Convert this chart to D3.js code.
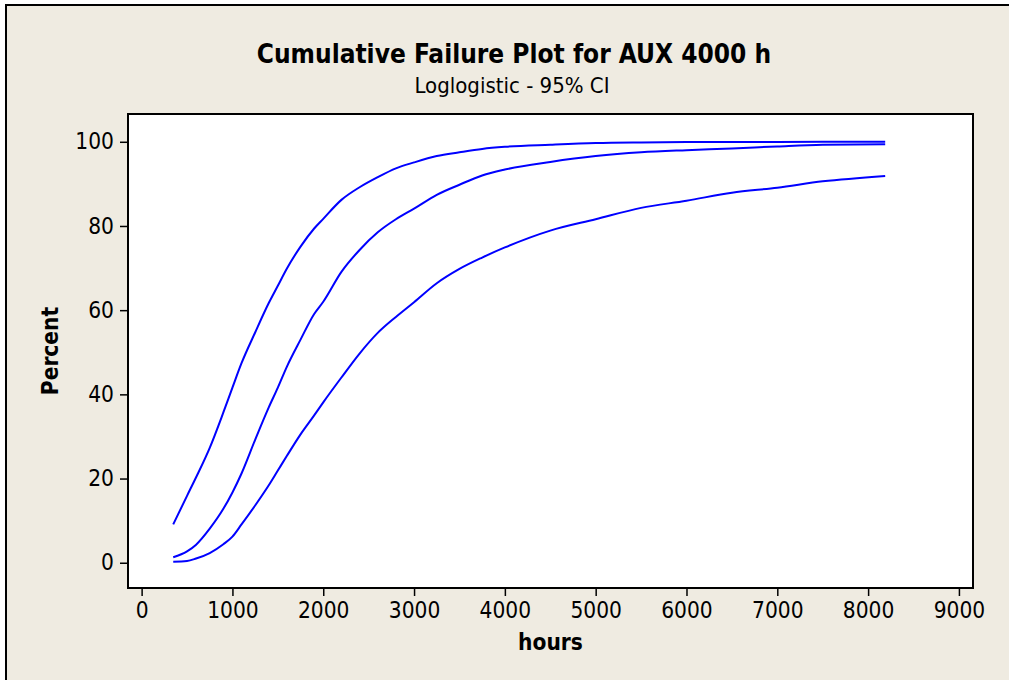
<!DOCTYPE html>
<html>
<head>
<meta charset="utf-8">
<script src="https://cdn.jsdelivr.net/npm/d3@7/dist/d3.min.js"></script>
<style>
  html, body { margin: 0; padding: 0; background: #efebe1; overflow: hidden; }
  svg { display: block; }
  text { font-family: "DejaVu Sans Condensed", "DejaVu Sans", sans-serif; fill: #000; }
</style>
</head>
<body>
<svg id="chart" width="1009" height="680"></svg>
<script>
// ---- data ----
const hours = [348, 500, 600, 750, 900, 1000, 1100, 1250, 1400, 1500, 1600, 1750, 1900, 2000,
  2200, 2400, 2600, 2800, 3000, 3250, 3500, 3750, 4000, 4500, 5000, 5500, 6000, 6500, 7000, 7500, 8188];
const upperCI = [9.1, 15.9, 20.3, 27.3, 35.7, 41.6, 47.4, 54.7, 61.7, 65.8, 69.9, 75.1, 79.4, 81.7,
  86.2, 89.2, 91.6, 93.7, 95.1, 96.6, 97.5, 98.3, 98.8, 99.3, 99.7, 99.85, 99.92, 99.95, 99.97, 99.98, 99.99];
const percentFit = [1.3, 2.7, 4.3, 8.1, 12.8, 16.7, 21.2, 29.2, 36.9, 41.6, 46.6, 53.0, 59.1, 62.0,
  69.1, 74.3, 78.5, 81.6, 84.1, 87.4, 89.8, 92.0, 93.4, 95.2, 96.6, 97.5, 98.0, 98.4, 98.9, 99.3, 99.4];
const lowerCI = [0.24, 0.4, 1.0, 2.3, 4.4, 6.2, 9.1, 13.6, 18.4, 21.9, 25.4, 30.5, 35.0, 38.1,
  44.0, 49.7, 54.6, 58.4, 61.9, 66.4, 69.8, 72.5, 74.9, 78.9, 81.6, 84.3, 86.0, 87.9, 89.1, 90.6, 91.9];
const xTicks = [0, 1000, 2000, 3000, 4000, 5000, 6000, 7000, 8000, 9000];
const yTicks = [0, 20, 40, 60, 80, 100];
const titleText = "Cumulative Failure Plot for AUX 4000 h";
const subtitleText = "Loglogistic - 95% CI";
const xLabel = "hours";
const yLabel = "Percent";

// ---- layout ----
const svg = d3.select("#chart");
const plot = { left: 128, top: 114, right: 973, bottom: 588 };
const FONT = "'DejaVu Sans Condensed','DejaVu Sans',sans-serif";

// white margin above and left of the frame
svg.append("rect").attr("x", 0).attr("y", 0).attr("width", 1009).attr("height", 5).attr("fill", "#ffffff");
svg.append("rect").attr("x", 0).attr("y", 0).attr("width", 6).attr("height", 680).attr("fill", "#ffffff");
svg.append("rect").attr("x", 6).attr("y", 5).attr("width", 1003).attr("height", 675)
  .attr("fill", "#efebe1");
svg.append("line").attr("x1", 6).attr("y1", 5).attr("x2", 6).attr("y2", 680)
  .attr("stroke", "#000").attr("stroke-width", 2);
svg.append("line").attr("x1", 5).attr("y1", 5).attr("x2", 1009).attr("y2", 5)
  .attr("stroke", "#000").attr("stroke-width", 2);

const x = d3.scaleLinear().domain([-150, 9155]).range([plot.left, plot.right]);
const y = d3.scaleLinear().domain([-6, 106.6]).range([plot.bottom, plot.top]);

// plot area
svg.append("rect").attr("x", plot.left).attr("y", plot.top)
  .attr("width", plot.right - plot.left).attr("height", plot.bottom - plot.top)
  .attr("fill", "#ffffff");

// curves
const line = d3.line().x((d, i) => x(hours[i])).y(d => y(d)).curve(d3.curveMonotoneX);
const g = svg.append("g");
[upperCI, percentFit, lowerCI].forEach(series => {
  g.append("path").datum(series).attr("d", line)
    .attr("fill", "none").attr("stroke", "#0000ff").attr("stroke-width", 2)
    .attr("stroke-linejoin", "round");
});

// plot border
svg.append("rect").attr("x", plot.left).attr("y", plot.top)
  .attr("width", plot.right - plot.left).attr("height", plot.bottom - plot.top)
  .attr("fill", "none").attr("stroke", "#000").attr("stroke-width", 2);

// axes
const xAxis = d3.axisBottom(x).tickValues(xTicks).tickSize(8).tickPadding(6).tickFormat(d3.format("d"));
const gx = svg.append("g").attr("transform", `translate(0,${plot.bottom})`).call(xAxis);
gx.select(".domain").remove();
gx.selectAll("line").attr("stroke", "#000").attr("stroke-width", 1.5);
gx.selectAll("text").attr("font-size", 22.5).style("font-family", FONT).attr("fill", "#000");

const yAxis = d3.axisLeft(y).tickValues(yTicks).tickSize(8).tickPadding(6).tickFormat(d3.format("d"));
const gy = svg.append("g").attr("transform", `translate(${plot.left},0)`).call(yAxis);
gy.select(".domain").remove();
gy.selectAll("line").attr("stroke", "#000").attr("stroke-width", 1.5);
gy.selectAll("text").attr("font-size", 22.5).style("font-family", FONT).attr("fill", "#000");

// titles
svg.append("text").attr("x", 514).attr("y", 63).attr("text-anchor", "middle")
  .attr("font-size", 26).attr("font-weight", "bold").text(titleText);
svg.append("text").attr("x", 512).attr("y", 93).attr("text-anchor", "middle")
  .attr("font-size", 22).text(subtitleText);
svg.append("text").attr("x", (plot.left + plot.right) / 2).attr("y", 650).attr("text-anchor", "middle")
  .attr("font-size", 22.5).attr("font-weight", "bold").text(xLabel);
svg.append("text").attr("transform", `translate(58,${(plot.top + plot.bottom) / 2}) rotate(-90)`)
  .attr("text-anchor", "middle").attr("font-size", 22.5).attr("font-weight", "bold").text(yLabel);
</script>
</body>
</html>
